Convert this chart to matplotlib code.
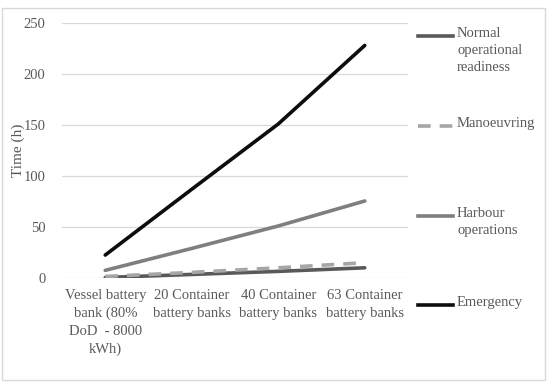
import matplotlib.pyplot as plt
from matplotlib.lines import Line2D
from matplotlib.patches import Rectangle

plt.rcParams['font.family'] = ['Liberation Serif']

# data
categories = ['Vessel battery\nbank (80%\nDoD  - 8000\nkWh)', '20 Container\nbattery banks',
              '40 Container\nbattery banks', '63 Container\nbattery banks']
normal = [0.5, 3.5, 6.5, 10]
manoeuvring = [1.5, 5.5, 10, 15]
harbour = [7.5, 29, 51, 75.5]
emergency = [22.5, 87, 151, 228]

series_labels = ['Normal\noperational\nreadiness', 'Manoeuvring', 'Harbour\noperations', 'Emergency']
series = [normal, manoeuvring, harbour, emergency]
colors = ['#595959', '#A6A6A6', '#7F7F7F', '#0D0D0D']
styles = ['-', (0, (3.5, 2.5)), '-', '-']

txt = '#595959'
fig = plt.figure(figsize=(5.5, 3.85), dpi=100)
W, H = 550, 385
ax = fig.add_axes([62 / W, 1 - 278 / H, 346 / W, 255 / H])

x = range(len(categories))
for vals, c, ls in zip(series, colors, styles):
    ax.plot(x, vals, color=c, linestyle=ls, linewidth=2.6, solid_capstyle='round')

ax.set_xlim(-0.5, 3.5)
ax.set_ylim(0, 250)
ax.set_yticks(range(0, 251, 50))
ax.set_xticks(list(x))
ax.set_xticklabels(categories, fontsize=10.5, color=txt, linespacing=1.45)
ax.tick_params(axis='y', labelsize=10.5, colors=txt, length=0, pad=12)
ax.tick_params(axis='x', length=0, pad=8)
ax.grid(axis='y', color='#D9D9D9', linewidth=0.9)
ax.set_axisbelow(True)
for s in ax.spines.values():
    s.set_visible(False)
ax.set_ylabel('Time (h)', fontsize=11, color=txt)
ax.yaxis.set_label_coords(-0.107, 0.5)

# legend drawn by hand
lx = fig.add_axes([0, 0, 1, 1], facecolor='none')
lx.set_xlim(0, W)
lx.set_ylim(H, 0)
lx.axis('off')
ys = [36, 126, 216, 305]
for lab, c, ls, yy in zip(series_labels, colors, styles, ys):
    lx.add_line(Line2D([418, 453], [yy, yy], color=c, linestyle=ls, linewidth=2.6))
    lx.text(457, yy - 9, lab, fontsize=10.5, color=txt, va='top', ha='left', linespacing=1.4)

lx.add_patch(Rectangle((1.5, 7.5), 543, 372, fill=False, edgecolor='#D9D9D9', linewidth=1))

fig.savefig('out.png', dpi=100)
